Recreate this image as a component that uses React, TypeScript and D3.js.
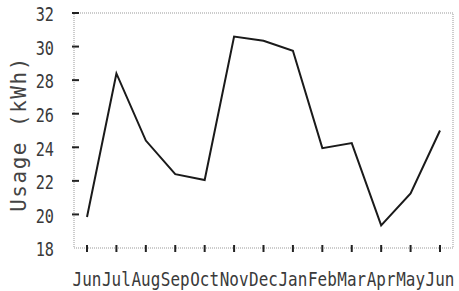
import * as d3 from "d3";

const months = ["Jun", "Jul", "Aug", "Sep", "Oct", "Nov", "Dec", "Jan", "Feb", "Mar", "Apr", "May", "Jun"];
const usage = [19.85, 28.4, 24.4, 22.4, 22.05, 30.6, 30.35, 29.75, 23.95, 24.25, 19.35, 21.25, 25.0];
const yTicks = [18, 20, 22, 24, 26, 28, 30, 32];

const width = 459;
const height = 291;
const margin = { top: 13, right: 6, bottom: 43, left: 74 };
const font = "'DejaVu Sans Mono', monospace";

export default function App() {
  const x = d3
    .scalePoint<number>()
    .domain(months.map((_, i) => i))
    .range([87, 440]);

  const y = d3
    .scaleLinear()
    .domain([18, 32])
    .range([height - margin.bottom, margin.top]);

  const line = d3
    .line<number>()
    .x((_, i) => x(i)!)
    .y((d) => y(d));

  const left = margin.left;
  const right = width - margin.right;
  const top = margin.top;
  const bottom = height - margin.bottom;

  return (
    <svg
      width={width}
      height={height}
      style={{ position: "absolute", left: 0, top: 0, background: "#fff" }}
    >
      {/* dotted frame */}
      <rect
        x={left}
        y={top}
        width={right - left}
        height={bottom - top}
        fill="none"
        stroke="#999"
        strokeWidth={1}
        strokeDasharray="1,1"
      />

      {/* y axis */}
      {yTicks.map((t) => (
        <g key={t}>
          {t !== 18 && (
            <line x1={left - 2} x2={left + 5} y1={y(t)} y2={y(t)} stroke="#222" strokeWidth={2} />
          )}
          <text
            transform={`translate(54,${y(t) + 1.5}) scale(0.8,1.05)`}
            textAnchor="end"
            dominantBaseline="central"
            fontFamily={font}
            fontSize={19}
            fill="#3a3a3a"
          >
            {t}
          </text>
        </g>
      ))}

      {/* x axis */}
      {months.map((m, i) => (
        <g key={i}>
          <line x1={x(i)} x2={x(i)} y1={bottom - 3} y2={bottom + 4} stroke="#222" strokeWidth={2} />
          <text
            transform={`translate(${x(i)},286) scale(0.84,1.05)`}
            textAnchor="middle"
            fontFamily={font}
            fontSize={19}
            fill="#3a3a3a"
          >
            {m}
          </text>
        </g>
      ))}

      <text
        transform="translate(26,134) rotate(-90)"
        textAnchor="middle"
        fontFamily={font}
        fontSize={21}
        letterSpacing={1.5}
        fill="#444"
      >
        Usage (kWh)
      </text>

      <path d={line(usage) ?? ""} fill="none" stroke="#1a1a1a" strokeWidth={2} strokeLinejoin="miter" />
    </svg>
  );
}
